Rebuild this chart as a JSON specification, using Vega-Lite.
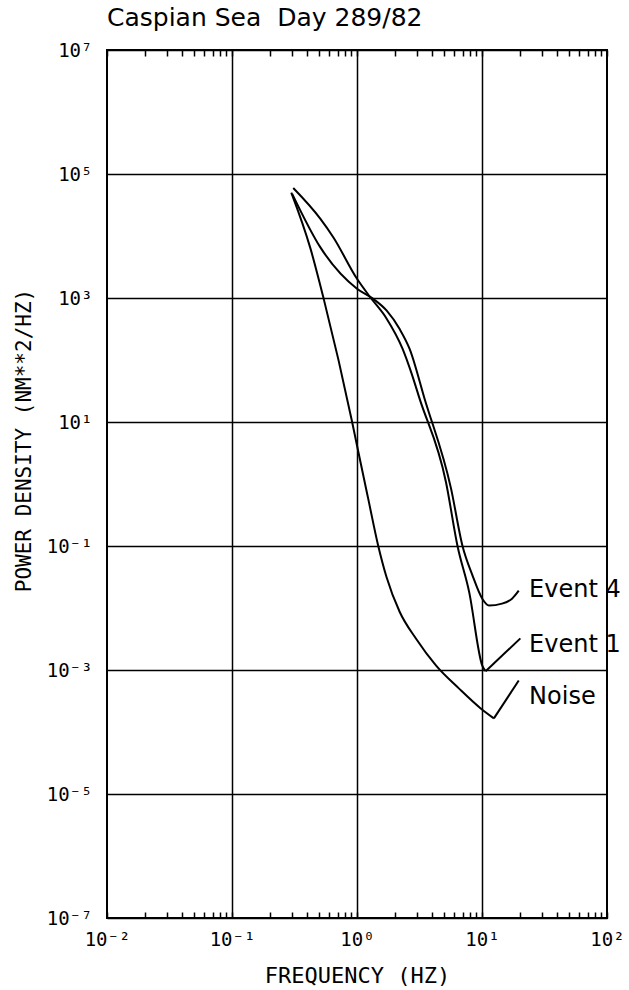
{
  "$schema": "https://vega.github.io/schema/vega-lite/v6.json",
  "width": 500,
  "height": 868,
  "autosize": "none",
  "padding": {"left": 107, "top": 50, "right": 22, "bottom": 72},
  "background": "white",
  "title": {
    "text": "Caspian Sea\u00a0 Day 289/82",
    "anchor": "start",
    "frame": "group",
    "font": "DejaVu Sans",
    "fontSize": 25,
    "fontWeight": "normal",
    "color": "black",
    "baseline": "alphabetic",
    "offset": -10
  },
  "config": {
    "view": {"stroke": "black", "strokeWidth": 2},
    "axis": {"domain": false}
  },
  "datasets": {
    "curves": [
      {"series": "Event 1", "f": 0.309, "p": 59400},
      {"series": "Event 1", "f": 0.508, "p": 19050},
      {"series": "Event 1", "f": 0.646, "p": 9550},
      {"series": "Event 1", "f": 1.0, "p": 2040},
      {"series": "Event 1", "f": 1.268, "p": 1047},
      {"series": "Event 1", "f": 1.722, "p": 468},
      {"series": "Event 1", "f": 2.317, "p": 151},
      {"series": "Event 1", "f": 2.735, "p": 60.3},
      {"series": "Event 1", "f": 3.162, "p": 24.0},
      {"series": "Event 1", "f": 5.152, "p": 1.07},
      {"series": "Event 1", "f": 6.368, "p": 0.1},
      {"series": "Event 1", "f": 7.889, "p": 0.0182},
      {"series": "Event 1", "f": 10.05, "p": 0.001175},
      {"series": "Event 1", "f": 10.69, "p": 0.000955},
      {"series": "Event 1 leader", "f": 10.69, "p": 0.000955},
      {"series": "Event 1 leader", "f": 20.28, "p": 0.003236},
      {"series": "Event 4", "f": 0.303, "p": 47860},
      {"series": "Event 4", "f": 0.508, "p": 6607},
      {"series": "Event 4", "f": 1.0, "p": 1413},
      {"series": "Event 4", "f": 1.34, "p": 977},
      {"series": "Event 4", "f": 1.722, "p": 631},
      {"series": "Event 4", "f": 2.193, "p": 316},
      {"series": "Event 4", "f": 2.636, "p": 151},
      {"series": "Event 4", "f": 3.467, "p": 24.0},
      {"series": "Event 4", "f": 5.649, "p": 0.85},
      {"series": "Event 4", "f": 6.982, "p": 0.1},
      {"series": "Event 4", "f": 8.375, "p": 0.0339},
      {"series": "Event 4", "f": 10.05, "p": 0.01413},
      {"series": "Event 4", "f": 11.38, "p": 0.01096},
      {"series": "Event 4", "f": 14.45, "p": 0.01175},
      {"series": "Event 4", "f": 17.38, "p": 0.01413},
      {"series": "Event 4", "f": 19.68, "p": 0.01905},
      {"series": "Noise", "f": 0.298, "p": 50120},
      {"series": "Noise", "f": 0.424, "p": 6310},
      {"series": "Noise", "f": 0.541, "p": 977},
      {"series": "Noise", "f": 0.908, "p": 10.7},
      {"series": "Noise", "f": 1.0, "p": 4.17},
      {"series": "Noise", "f": 1.23, "p": 0.575},
      {"series": "Noise", "f": 1.476, "p": 0.102},
      {"series": "Noise", "f": 1.722, "p": 0.0316},
      {"series": "Noise", "f": 2.193, "p": 0.0087},
      {"series": "Noise", "f": 2.979, "p": 0.00316},
      {"series": "Noise", "f": 4.295, "p": 0.001175},
      {"series": "Noise", "f": 6.561, "p": 0.000501},
      {"series": "Noise", "f": 9.772, "p": 0.00024},
      {"series": "Noise", "f": 12.45, "p": 0.000166},
      {"series": "Noise leader", "f": 12.45, "p": 0.000166},
      {"series": "Noise leader", "f": 19.68, "p": 0.000676}
    ],
    "labels": [
      {"label": "Event 4", "f": 23.8, "p": 0.0195},
      {"label": "Event 1", "f": 23.8, "p": 0.0025},
      {"label": "Noise", "f": 23.8, "p": 0.00037}
    ]
  },
  "resolve": {"axis": {"x": "independent"}},
  "layer": [
    {
      "data": {"name": "curves"},
      "mark": {"type": "line", "color": "black", "strokeWidth": 2, "interpolate": "monotone"},
      "encoding": {
        "x": {
          "field": "f",
          "type": "quantitative",
          "scale": {"type": "log", "domain": [0.01, 100]},
          "axis": {
            "orient": "bottom",
            "values": [0.01, 0.02, 0.03, 0.04, 0.05, 0.06, 0.07, 0.08, 0.09, 0.1, 0.2, 0.3, 0.4, 0.5, 0.6, 0.7, 0.8, 0.9, 1, 2, 3, 4, 5, 6, 7, 8, 9, 10, 20, 30, 40, 50, 60, 70, 80, 90, 100],
            "labelExpr": "datum.value == 0.01 ? '10⁻²' : datum.value == 0.1 ? '10⁻¹' : datum.value == 1 ? '10⁰' : datum.value == 10 ? '10¹' : datum.value == 100 ? '10²' : ''",
            "labelFont": "DejaVu Sans Mono",
            "labelFontSize": 19,
            "labelColor": "black",
            "labelPadding": 18,
            "labelOverlap": false,
            "labelFlush": false,
            "tickSize": -6,
            "tickColor": "black",
            "tickWidth": 1.5,
            "grid": true,
            "gridColor": "black",
            "gridWidth": 1.5,
            "gridOpacity": {"condition": {"test": "datum.value == 0.1 || datum.value == 1 || datum.value == 10", "value": 1}, "value": 0},
            "title": "FREQUENCY (HZ)",
            "titleFont": "DejaVu Sans Mono",
            "titleFontSize": 22,
            "titleFontWeight": "normal",
            "titleColor": "black",
            "titleBaseline": "middle",
            "titleY": 57
          }
        },
        "y": {
          "field": "p",
          "type": "quantitative",
          "scale": {"type": "log", "domain": [1e-7, 1e7]},
          "axis": {
            "values": [1e-7, 1e-5, 0.001, 0.1, 10, 1000, 100000, 10000000],
            "labelExpr": "datum.value == 1e-7 ? '10⁻⁷' : datum.value == 1e-5 ? '10⁻⁵' : datum.value == 0.001 ? '10⁻³' : datum.value == 0.1 ? '10⁻¹' : datum.value == 10 ? '10¹' : datum.value == 1000 ? '10³' : datum.value == 100000 ? '10⁵' : '10⁷'",
            "labelFont": "DejaVu Sans Mono",
            "labelFontSize": 19,
            "labelColor": "black",
            "labelPadding": 15,
            "labelOverlap": false,
            "labelFlush": false,
            "ticks": false,
            "grid": true,
            "gridColor": "black",
            "gridWidth": 1.5,
            "title": "POWER DENSITY (NM**2/HZ)",
            "titleFont": "DejaVu Sans Mono",
            "titleFontSize": 21,
            "titleFontWeight": "normal",
            "titleColor": "black",
            "titleAngle": -90,
            "titleAlign": "center",
            "titleBaseline": "middle",
            "titleX": -83,
            "titleY": 390
          }
        },
        "detail": {"field": "series"}
      }
    },
    {
      "data": {"name": "labels"},
      "mark": {"type": "text", "align": "left", "baseline": "middle", "font": "DejaVu Sans", "fontSize": 24, "color": "black", "clip": false},
      "encoding": {
        "x": {
          "field": "f",
          "type": "quantitative",
          "scale": {"type": "log", "domain": [0.01, 100]},
          "axis": {
            "orient": "top",
            "values": [0.01, 0.02, 0.03, 0.04, 0.05, 0.06, 0.07, 0.08, 0.09, 0.1, 0.2, 0.3, 0.4, 0.5, 0.6, 0.7, 0.8, 0.9, 1, 2, 3, 4, 5, 6, 7, 8, 9, 10, 20, 30, 40, 50, 60, 70, 80, 90, 100],
            "labels": false,
            "grid": false,
            "tickSize": -6,
            "tickColor": "black",
            "tickWidth": 1.5,
            "title": null
          }
        },
        "y": {"field": "p", "type": "quantitative", "scale": {"type": "log", "domain": [1e-7, 1e7]}},
        "text": {"field": "label"}
      }
    }
  ]
}
